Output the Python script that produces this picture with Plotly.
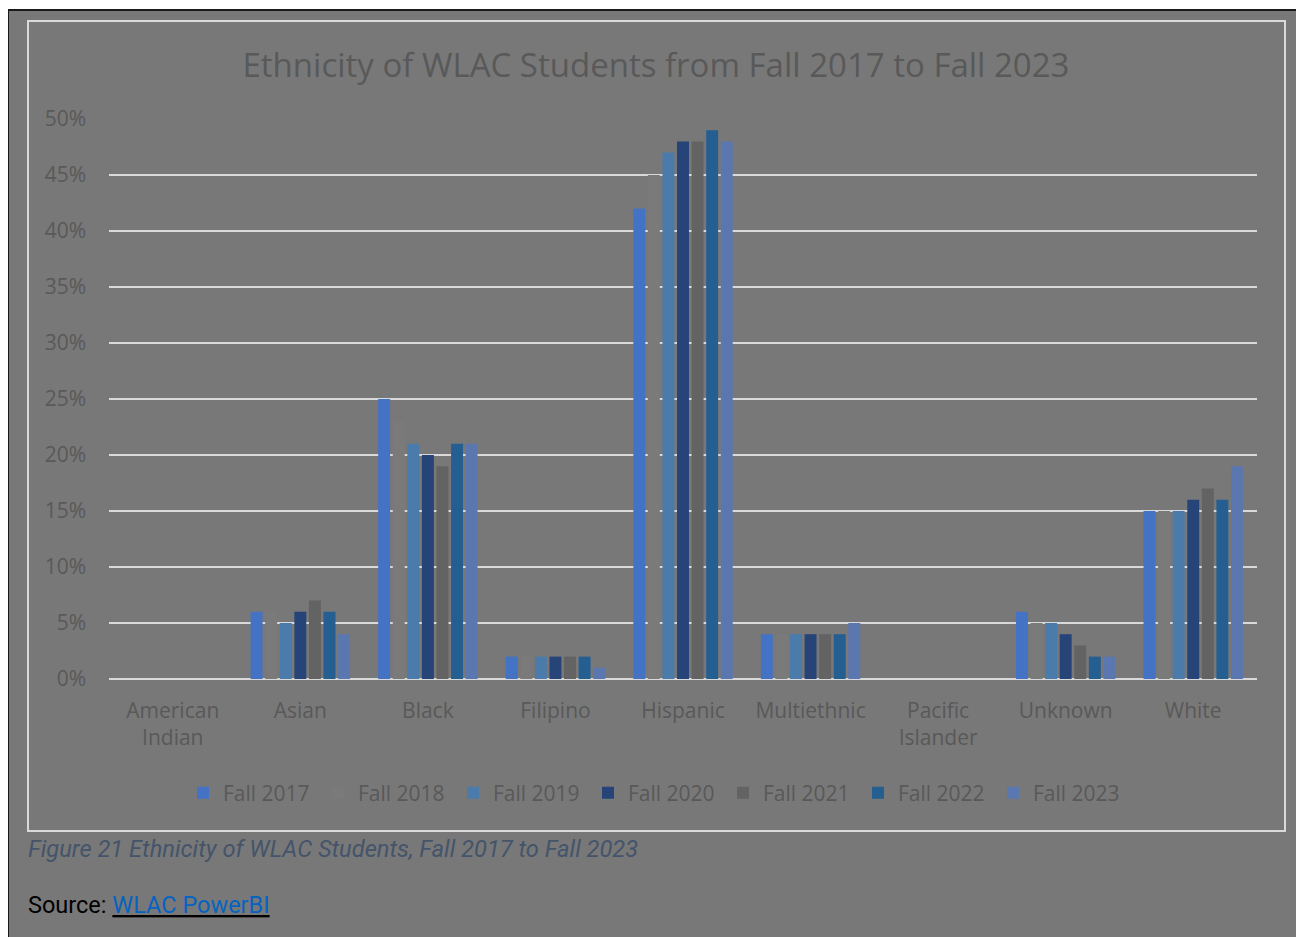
import plotly.graph_objects as go

categories = ["American<br>Indian", "Asian", "Black", "Filipino", "Hispanic",
              "Multiethnic", "Pacific<br>Islander", "Unknown", "White"]
series_names = ["Fall 2017", "Fall 2018", "Fall 2019", "Fall 2020",
                "Fall 2021", "Fall 2022", "Fall 2023"]
fall_2017 = [0, 6, 25, 2, 42, 4, 0, 6, 15]
fall_2018 = [0, 6, 23, 2, 45, 4, 0, 5, 15]
fall_2019 = [0, 5, 21, 2, 47, 4, 0, 5, 15]
fall_2020 = [0, 6, 20, 2, 48, 4, 0, 4, 16]
fall_2021 = [0, 7, 19, 2, 48, 4, 0, 3, 17]
fall_2022 = [0, 6, 21, 2, 49, 4, 0, 2, 16]
fall_2023 = [0, 4, 21, 1, 48, 5, 0, 2, 19]
series_values = [fall_2017, fall_2018, fall_2019, fall_2020,
                 fall_2021, fall_2022, fall_2023]
y_ticks = [0, 5, 10, 15, 20, 25, 30, 35, 40, 45, 50]
y_tick_labels = [f"{v}%" for v in y_ticks]

colors = ["#4472C4", "#7A7A7A", "#4A7BAA", "#264478", "#636363", "#255E91", "#5B77B0"]

# the page body adds an 8px margin; positions below are reference pixels
OX, OY = 8, 8
W, H = 1304 - OX, 937 - OY
L, R, T, B = 109 - OX, 1257 - OX, 119 - OY, 679 - OY


def px(x):
    return (x - OX - L) / (R - L)


def py(y):
    return (B - (y - OY)) / (B - T)


fig = go.Figure()
for name, vals, c in zip(series_names, series_values, colors):
    fig.add_trace(go.Bar(x=categories, y=vals, name=name,
                         marker=dict(color=c, line=dict(width=0))))

txt = "#595959"
font = "Open Sans"
fig.update_layout(
    width=W, height=H,
    paper_bgcolor="white", plot_bgcolor="rgba(0,0,0,0)",
    margin=dict(l=L, r=W - R, t=T, b=H - B, pad=0),
    barmode="group", bargap=0.2, bargroupgap=0.18,
    showlegend=True,
    legend=dict(orientation="h", x=px(183), xanchor="left",
                y=py(793), yanchor="middle",
                entrywidth=90, entrywidthmode="pixels",
                font=dict(family=font, size=21, color=txt),
                bgcolor="rgba(0,0,0,0)"),
    title=dict(text="Ethnicity of WLAC Students from Fall 2017 to Fall 2023",
               x=(656 - OX) / W, xanchor="center", y=1 - (65 - OY) / H, yanchor="middle",
               font=dict(family=font, size=33, color=txt)),
    xaxis=dict(type="category", showgrid=False, zeroline=False, showline=False,
               ticks="", tickfont=dict(family=font, size=21, color=txt),
               ticklabelstandoff=17, fixedrange=True),
    yaxis=dict(range=[0, 50], tickvals=y_ticks, ticktext=y_tick_labels,
               showgrid=True, gridcolor="#D9D9D9", gridwidth=2,
               zeroline=True, zerolinecolor="#D9D9D9", zerolinewidth=2,
               showline=False, ticks="",
               tickfont=dict(family=font, size=21, color=txt),
               ticklabelstandoff=22, fixedrange=True),
    shapes=[
        dict(type="rect", xref="paper", yref="paper", layer="below",
             x0=px(8), x1=px(1303), y0=py(945), y1=py(10),
             fillcolor="#787878", line=dict(color="#1A1A1A", width=2)),
        dict(type="rect", xref="paper", yref="paper", layer="below",
             x0=px(28), x1=px(1285), y0=py(831), y1=py(21),
             fillcolor="rgba(0,0,0,0)", line=dict(color="#D9D9D9", width=2)),
    ],
    annotations=[
        dict(text="<i>Figure 21 Ethnicity of WLAC Students, Fall 2017 to Fall 2023</i>",
             xref="paper", yref="paper", x=px(26), xanchor="left",
             y=py(849), yanchor="middle", showarrow=False,
             font=dict(family="Roboto", size=23.7, color="#44546A")),
        dict(text="Source: <u><span style='color:#0563C1'>WLAC PowerBI</span></u>",
             xref="paper", yref="paper", x=px(26), xanchor="left",
             y=py(905), yanchor="middle", showarrow=False,
             font=dict(family="Roboto", size=23.5, color="#000000")),
    ],
)

fig.write_html("out.html")
